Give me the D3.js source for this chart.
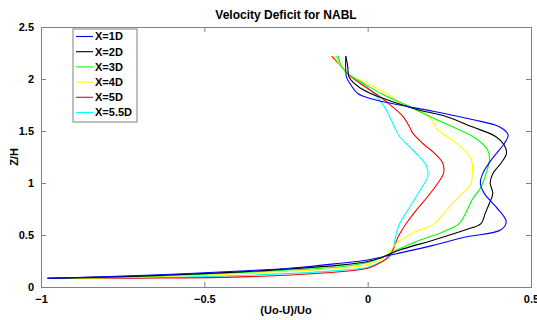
<!DOCTYPE html>
<html>
<head>
<meta charset="utf-8">
<script src="https://cdn.jsdelivr.net/npm/d3@7"></script>
<style>
  body { margin: 0; background: #fff; }
  svg text { font-family: "Liberation Sans", Arial, sans-serif; font-weight: bold; fill: #000; }
</style>
</head>
<body>
<svg id="chart"></svg>
<script>
const width = 537;
const height = 320;

// profiles: [deficit (Uo-U)/Uo, Z/H], top to bottom
const series = ["X=1D", "X=2D", "X=3D", "X=4D", "X=5D", "X=5.5D"];
const colors = ["#0000ff", "#000000", "#00ff00", "#ffff00", "#ff0000", "#00ffff"];

const p1D = [[-0.067, 2.22], [-0.065, 2.02], [-0.055, 1.96], [-0.03, 1.86], [0.011, 1.81], [0.098, 1.75], [0.2, 1.69], [0.32, 1.61], [0.403, 1.54], [0.43, 1.46], [0.418, 1.38], [0.378, 1.22], [0.352, 1.09], [0.345, 1.0], [0.357, 0.9], [0.393, 0.77], [0.424, 0.63], [0.408, 0.55], [0.3, 0.48], [0.2, 0.4], [0.088, 0.32], [0.0, 0.26], [-0.085, 0.228], [-0.238, 0.18], [-0.39, 0.154], [-0.7, 0.11], [-0.98, 0.083]];
const p2D = [[-0.067, 2.22], [-0.061, 2.12], [-0.057, 2.02], [-0.03, 1.93], [0.016, 1.85], [0.088, 1.77], [0.159, 1.7], [0.24, 1.64], [0.32, 1.54], [0.393, 1.445], [0.418, 1.365], [0.425, 1.285], [0.408, 1.19], [0.383, 1.09], [0.375, 1.0], [0.383, 0.9], [0.372, 0.8], [0.36, 0.71], [0.347, 0.61], [0.3, 0.55], [0.2, 0.45], [0.098, 0.355], [0.037, 0.276], [0.0, 0.245], [-0.085, 0.21], [-0.39, 0.145], [-0.7, 0.105], [-0.98, 0.083]];
const p3D = [[-0.09, 2.22], [-0.08, 2.12], [-0.06, 2.05], [-0.014, 1.96], [0.047, 1.85], [0.118, 1.75], [0.19, 1.64], [0.26, 1.54], [0.33, 1.43], [0.367, 1.32], [0.373, 1.22], [0.362, 1.09], [0.347, 0.96], [0.32, 0.84], [0.3, 0.71], [0.28, 0.61], [0.23, 0.53], [0.159, 0.45], [0.088, 0.355], [0.047, 0.29], [0.0, 0.235], [-0.085, 0.195], [-0.39, 0.14], [-0.7, 0.1], [-0.98, 0.085]];
const p4D = [[-0.103, 2.22], [-0.08, 2.12], [-0.055, 2.04], [-0.004, 1.96], [0.057, 1.86], [0.098, 1.77], [0.159, 1.7], [0.2, 1.59], [0.21, 1.525], [0.26, 1.41], [0.306, 1.285], [0.32, 1.19], [0.32, 1.09], [0.317, 1.0], [0.29, 0.9], [0.25, 0.77], [0.215, 0.64], [0.2, 0.6], [0.138, 0.52], [0.088, 0.42], [0.062, 0.32], [0.05, 0.28], [0.0, 0.215], [-0.085, 0.18], [-0.39, 0.13], [-0.7, 0.095], [-0.98, 0.085]];
const p5D = [[-0.11, 2.22], [-0.08, 2.12], [-0.05, 2.02], [-0.01, 1.93], [0.037, 1.83], [0.077, 1.73], [0.108, 1.64], [0.128, 1.54], [0.138, 1.48], [0.169, 1.38], [0.205, 1.285], [0.23, 1.19], [0.232, 1.09], [0.215, 1.0], [0.184, 0.87], [0.149, 0.74], [0.118, 0.61], [0.093, 0.48], [0.077, 0.355], [0.06, 0.28], [0.037, 0.23], [0.0, 0.18], [-0.085, 0.147], [-0.39, 0.097], [-0.7, 0.085], [-0.98, 0.083]];
const p55D = [[-0.096, 2.22], [-0.08, 2.12], [-0.05, 2.02], [-0.004, 1.93], [0.027, 1.83], [0.052, 1.73], [0.067, 1.64], [0.082, 1.54], [0.098, 1.445], [0.128, 1.35], [0.159, 1.25], [0.181, 1.157], [0.184, 1.06], [0.174, 1.0], [0.149, 0.87], [0.123, 0.74], [0.098, 0.61], [0.085, 0.48], [0.077, 0.355], [0.065, 0.28], [0.04, 0.24], [0.0, 0.19], [-0.085, 0.16], [-0.39, 0.11], [-0.7, 0.088], [-0.98, 0.083]];
const profiles = [p1D, p2D, p3D, p4D, p5D, p55D];

const xTicks = [-1, -0.5, 0, 0.5];
const yTicks = [0, 0.5, 1, 1.5, 2, 2.5];

const margin = { top: 27, right: 6, bottom: 33, left: 41 };
const innerW = width - margin.left - margin.right;
const innerH = height - margin.top - margin.bottom;

const svg = d3.select("#chart")
    .attr("width", width)
    .attr("height", height);

const x = d3.scaleLinear().domain([-1, 0.5]).range([margin.left, margin.left + innerW]);
const y = d3.scaleLinear().domain([0, 2.5]).range([margin.top + innerH, margin.top]);

const axisColor = "#808080";

// curves
const line = d3.line()
    .x(d => x(d[0]))
    .y(d => y(d[1]))
    .curve(d3.curveCatmullRom.alpha(0.5));

// draw in reverse so X=1D ends up on top
svg.append("g")
    .selectAll("path")
    .data(profiles.map((p, i) => ({ p, i })).reverse())
    .enter().append("path")
    .attr("fill", "none")
    .attr("stroke", d => colors[d.i])
    .attr("stroke-width", 1.1)
    .attr("d", d => line(d.p));

// axes (box with inward ticks)
const fmt = d => d3.format("")(d);
const gx = svg.append("g").attr("transform", `translate(0,${y(0)})`)
    .call(d3.axisBottom(x).tickValues(xTicks).tickSize(-5).tickPadding(8).tickFormat(fmt));
const gxt = svg.append("g").attr("transform", `translate(0,${y(2.5)})`)
    .call(d3.axisTop(x).tickValues(xTicks).tickSize(-5).tickFormat(""));
const gy = svg.append("g").attr("transform", `translate(${x(-1)},0)`)
    .call(d3.axisLeft(y).tickValues(yTicks).tickSize(-5).tickPadding(7).tickFormat(fmt));
const gyr = svg.append("g").attr("transform", `translate(${x(0.5)},0)`)
    .call(d3.axisRight(y).tickValues(yTicks).tickSize(-5).tickFormat(""));

[gx, gxt, gy, gyr].forEach(g => {
    g.select(".domain").attr("stroke", axisColor);
    g.selectAll(".tick line").attr("stroke", axisColor);
    g.selectAll("text")
        .style("font-family", "'Liberation Sans', Arial, sans-serif")
        .style("font-weight", "bold")
        .style("font-size", "11px")
        .attr("fill", "#000");
});

// titles
svg.append("text")
    .attr("x", x(-0.25)).attr("y", 19)
    .attr("text-anchor", "middle")
    .style("font-size", "12px")
    .text("Velocity Deficit for NABL");

svg.append("text")
    .attr("x", x(-0.25)).attr("y", 314)
    .attr("text-anchor", "middle")
    .style("font-size", "11px")
    .text("(Uo-U)/Uo");

svg.append("text")
    .attr("transform", `translate(18,${y(1.25)}) rotate(-90)`)
    .attr("text-anchor", "middle")
    .style("font-size", "11px")
    .text("Z/H");

// legend
const legend = svg.append("g").attr("transform", "translate(73,29)");
legend.append("rect")
    .attr("width", 64).attr("height", 93)
    .attr("fill", "#fff")
    .attr("stroke", axisColor);

const rows = legend.selectAll("g.row")
    .data(series)
    .enter().append("g")
    .attr("class", "row")
    .attr("transform", (d, i) => `translate(0,${7.5 + i * 15.2})`);

rows.append("line")
    .attr("x1", 3).attr("x2", 20)
    .attr("stroke", (d, i) => colors[i])
    .attr("stroke-width", 1.1);

rows.append("text")
    .attr("x", 22).attr("dy", "0.35em")
    .style("font-size", "11px")
    .text(d => d);
</script>
</body>
</html>
